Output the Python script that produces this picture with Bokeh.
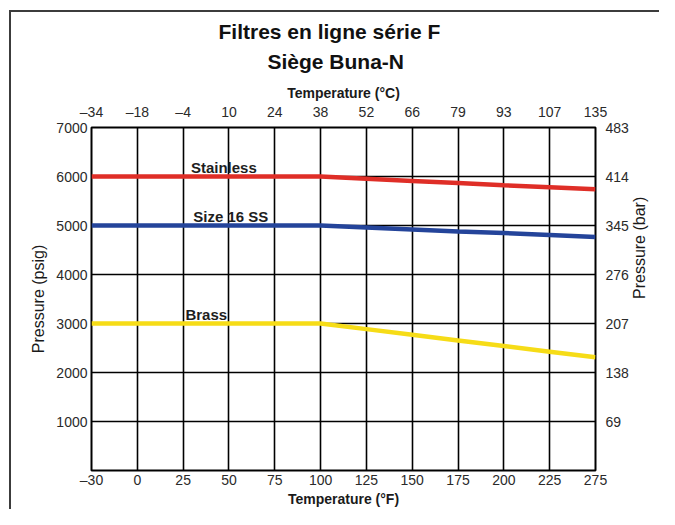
from bokeh.plotting import figure
from bokeh.models import LinearAxis, FixedTicker, Range1d, Title
from bokeh.embed import file_html
from bokeh.resources import INLINE
from bokeh.core.properties import value
import math

# ---- data ----
temp_f = ["–30", "0", "25", "50", "75", "100", "125", "150", "175", "200", "225", "275"]
temp_c = ["–34", "–18", "–4", "10", "24", "38", "52", "66", "79", "93", "107", "135"]
psig_ticks = [1000, 2000, 3000, 4000, 5000, 6000, 7000]
bar_labels = ["69", "138", "207", "276", "345", "414", "483"]
stainless = [6000, 6000, 6000, 6000, 6000, 6000, 5955, 5910, 5865, 5820, 5780, 5740]
size16_ss = [5000, 5000, 5000, 5000, 5000, 5000, 4960, 4920, 4880, 4845, 4805, 4765]
brass = [3000, 3000, 3000, 3000, 3000, 3000, 2885, 2770, 2655, 2540, 2425, 2310]
series_names = ["Stainless", "Size 16 SS", "Brass"]
title_lines = ["Filtres en ligne série F", "Siège Buna-N"]

FONT = "Liberation Sans"
idx = list(range(len(temp_f)))

p = figure(width=659, height=509, output_backend="svg", toolbar_location=None,
           title=None, x_range=Range1d(0, len(idx) - 1), y_range=Range1d(0, 7000),
           min_border_left=91, min_border_right=56, min_border_top=127, min_border_bottom=31)
p.background_fill_color = "white"
p.border_fill_alpha = 0
p.outline_line_color = "black"
p.outline_line_width = 2
# page frame: thin dark lines along the top and left edges
p.styles = {
    "background-color": "white",
    "background-image": "linear-gradient(#3c3c3c, #3c3c3c), linear-gradient(#3c3c3c, #3c3c3c)",
    "background-size": "2px 100%, 100% 2px",
    "background-position": "9px 10px, 9px 10px",
    "background-repeat": "no-repeat",
}

xt = FixedTicker(ticks=idx)
yt = FixedTicker(ticks=psig_ticks)


def style_axis(ax, ticker, label_text=None, bold=False, size="14px"):
    ax.ticker = ticker
    ax.axis_line_color = None
    ax.major_tick_line_color = None
    ax.minor_tick_line_color = None
    ax.major_tick_out = 0
    ax.major_tick_in = 0
    ax.minor_tick_out = 0
    ax.minor_tick_in = 0
    ax.major_label_text_font = FONT
    ax.major_label_text_font_size = "14px"
    ax.major_label_text_color = "#2a2a2a"
    if label_text:
        ax.axis_label = label_text
        ax.axis_label_text_font = FONT
        ax.axis_label_text_font_size = size
        ax.axis_label_text_font_style = "bold" if bold else "normal"
        ax.axis_label_text_color = "#1a1a1a"


# bottom axis (°F)
bx = p.xaxis[0]
style_axis(bx, xt, "Temperature (°F)", bold=True, size="14px")
bx.major_label_overrides = {i: t for i, t in zip(idx, temp_f)}
bx.major_label_standoff = 1
bx.axis_label_standoff = 0

# left axis (psig)
ly = p.yaxis[0]
style_axis(ly, yt, "Pressure (psig)", size="16px")
ly.major_label_standoff = 4
ly.axis_label_standoff = 6

# right axis (bar)
ry = LinearAxis()
style_axis(ry, yt, "Pressure (bar)", size="16px")
ry.major_label_overrides = {t: l for t, l in zip(psig_ticks, bar_labels)}
ry.major_label_standoff = 10
ry.axis_label_standoff = 8
try:
    ry.axis_label_orientation = math.pi / 2
except Exception:
    pass
p.add_layout(ry, "right")

# top axis (°C)
tx = LinearAxis()
style_axis(tx, xt, "Temperature (°C)", bold=True, size="14px")
tx.major_label_overrides = {i: t for i, t in zip(idx, temp_c)}
tx.major_label_standoff = 8
tx.axis_label_standoff = 0
p.add_layout(tx, "above")

p.add_layout(Title(text=title_lines[1], text_font=FONT, text_font_size="21px",
                   text_font_style="bold", align="left", offset=176, standoff=18,
                   text_color="#111111"), "above")
p.add_layout(Title(text=title_lines[0], text_font=FONT, text_font_size="21px",
                   text_font_style="bold", align="left", offset=127, standoff=-9,
                   text_color="#111111"), "above")

# grid
p.xgrid.ticker = xt
p.ygrid.ticker = yt
for g in (p.xgrid[0], p.ygrid[0]):
    g.grid_line_color = "black"
    g.grid_line_width = 1.6
    g.grid_line_alpha = 1.0

# series
p.line(idx, stainless, line_color="#df2e27", line_width=4.5)
p.line(idx, size16_ss, line_color="#24449a", line_width=4.5)
p.line(idx, brass, line_color="#f6dc17", line_width=4.5)

# series labels
lab_x = [2.17, 2.22, 2.05]
lab_y = [6180, 5185, 3190]
p.text(x=lab_x, y=lab_y, text=series_names, text_font=value(FONT), text_font_size="15px",
       text_font_style="bold", text_color="#1e1e1e", text_baseline="alphabetic",
       text_align="left")

open("out.html", "w").write(file_html(p, INLINE))
